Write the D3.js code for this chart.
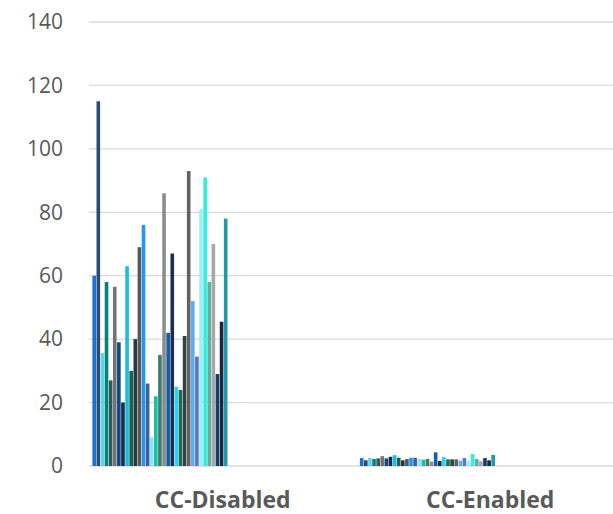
<!DOCTYPE html>
<html lang="en">
  <head>
    <meta charset="UTF-8" />
    <title>CC chart</title>
    <style>
      body { margin: 0; background: #fff; }
      svg { display: block; font-family: "Open Sans", "Noto Sans", sans-serif; }
    </style>
  </head>
  <body>
    <div id="chart"></div>
    <script src="https://cdn.jsdelivr.net/npm/d3@7"></script>
    <script>
    var width = 613;
    var height = 514;

    var categories = ["CC-Disabled", "CC-Enabled"];
    var yTicks = [0, 20, 40, 60, 80, 100, 120, 140];

    // one value per series, per category
    var disabledValues = [60, 115, 35.6, 58, 27, 56.5, 39, 20, 63, 30, 40, 69, 76, 26, 9, 22, 35,
                          86, 42, 67, 25, 24, 41, 93, 52, 34.5, 81, 91, 58, 70, 29, 45.5, 78];
    var enabledValues = [2.5, 1.8, 2.5, 2.2, 2.4, 3.1, 2.4, 2.9, 3.4, 2.6, 1.8, 2.2, 2.6, 2.6, 2.2, 2.0, 2.2,
                         1.4, 4.3, 1.6, 2.8, 2.1, 2.1, 2.1, 1.7, 2.5, 1.7, 3.8, 2.2, 1.5, 2.5, 1.8, 3.5];
    var seriesColors = ["#1a73cc", "#2d4a70", "#5bd5ee", "#00857a", "#2f5a55", "#737373", "#0a4c86",
                        "#1b2a48", "#17bfdf", "#1e5f55", "#26393b", "#595959", "#2196f3", "#3e5f9e",
                        "#8ae7f5", "#17c0a2", "#3a7d70", "#8c8c8c", "#1060a8", "#1c2e55", "#2ad2f3",
                        "#1f6a5a", "#2e4440", "#626262", "#5aaef5", "#5a78c0", "#9fedf7", "#2af2dd",
                        "#62afa0", "#a8a8a8", "#14406e", "#1a2540", "#1a9aaa"];

    var series = d3.range(disabledValues.length);
    var values = [disabledValues, enabledValues];

    var svg = d3.select("#chart")
                .append("svg")
                .attr("width", width)
                .attr("height", height);

    var y = d3.scaleLinear()
              .domain([0, 140])
              .range([466, 22]);

    var x0 = d3.scaleBand()
               .domain(categories)
               .range([89, 624]);

    // bars only fill the left half of each category band
    var x1 = d3.scaleBand()
               .domain(series)
               .range([3.4, 3.4 + x0.bandwidth() * 0.505])
               .paddingInner(0.12);

    // gridlines
    svg.append("g")
       .selectAll("line")
       .data(yTicks)
       .enter()
       .append("line")
       .attr("x1", 89)
       .attr("x2", width)
       .attr("y1", function(d){ return y(d); })
       .attr("y2", function(d){ return y(d); })
       .attr("stroke", "#d9d9d9")
       .attr("stroke-width", 1.3);

    // y labels
    svg.append("g")
       .selectAll("text")
       .data(yTicks)
       .enter()
       .append("text")
       .attr("x", 63)
       .attr("y", function(d){ return y(d); })
       .attr("dy", "0.35em")
       .attr("text-anchor", "end")
       .attr("fill", "#595959")
       .style("font-size", "21px")
       .text(function(d){ return d; });

    // bars
    var groups = svg.append("g")
       .selectAll("g")
       .data(categories)
       .enter()
       .append("g")
       .attr("transform", function(d){ return "translate(" + x0(d) + ",0)"; });

    groups.selectAll("rect")
       .data(function(d, i){
         return series.map(function(s){ return {s: s, v: values[i][s]}; });
       })
       .enter()
       .append("rect")
       .attr("x", function(d){ return x1(d.s); })
       .attr("width", x1.bandwidth())
       .attr("y", function(d){ return y(d.v); })
       .attr("height", function(d){ return y(0) - y(d.v); })
       .attr("fill", function(d){ return seriesColors[d.s]; });

    // category labels
    svg.append("g")
       .selectAll("text")
       .data(categories)
       .enter()
       .append("text")
       .attr("x", function(d){ return x0(d) + x0.bandwidth() / 2; })
       .attr("y", 508)
       .attr("text-anchor", "middle")
       .attr("fill", "#595959")
       .style("font-size", "23px")
       .style("font-weight", "bold")
       .text(function(d){ return d; });
    </script>
  </body>
</html>
